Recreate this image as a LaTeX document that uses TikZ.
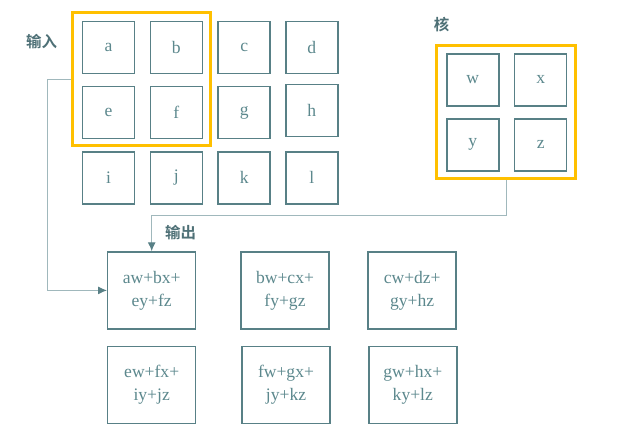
\documentclass[tikz,border=0pt]{standalone}
\usepackage{fontspec}
\setmainfont{Liberation Serif}
\newfontfamily\cjk{Noto Sans CJK SC}[BoldFont={Noto Sans CJK SC Bold}]
\usetikzlibrary{arrows.meta}
\definecolor{boxcol}{RGB}{88,128,134}
\definecolor{txtcol}{RGB}{92,136,141}
\definecolor{labcol}{RGB}{78,112,118}
\definecolor{linecol}{RGB}{160,184,188}
\definecolor{framecol}{RGB}{255,192,0}
\tikzset{
    cell/.style={draw=boxcol,line width=0.85pt,minimum width=1.04cm,minimum height=1.04cm,inner sep=0pt,text=txtcol,font=\fontsize{10}{12}\selectfont},
    outcell/.style={cell,minimum width=1.76cm,minimum height=1.54cm,align=center,font=\fontsize{10}{13}\selectfont},
    frame/.style={draw=framecol,line width=1.7pt,minimum width=2.78cm,minimum height=2.66cm,inner sep=0pt},
    lab/.style={text=labcol,font=\cjk\bfseries\fontsize{8.8}{10}\selectfont,inner sep=0pt},
    conn/.style={draw=linecol,line width=0.6pt},
    tip/.style={-{Latex[length=5pt,width=4.5pt,color=boxcol]}}
}
\begin{document}
\begin{tikzpicture}[x=0.02cm,y=-0.02cm]
            \useasboundingbox (0,0) rectangle (631,433);
            % input
            \node[lab] (inlab) at (41.7,41.7) {输入};
            \node[frame] (inframe) at (141.5,79.2) {};
            \node[cell] (a) at (108.5,47.5) {a};
            \node[cell] (b) at (176.3,47.5) {b};
            \node[cell] (c) at (244.2,47.5) {c};
            \node[cell] (d) at (311.8,47.5) {d};
            \node[cell] (e) at (108.5,112.7) {e};
            \node[cell] (f) at (176.3,112.7) {f};
            \node[cell] (g) at (244.2,112.7) {g};
            \node[cell] (h) at (311.8,110.5) {h};
            \node[cell] (i) at (108.5,177.8) {i};
            \node[cell] (j) at (176.3,177.8) {j};
            \node[cell] (k) at (244.2,177.8) {k};
            \node[cell] (l) at (311.8,177.8) {l};
            % kernel
            \node[lab] (klab) at (441.7,25) {核};
            \node[frame] (kframe) at (506.2,111.7) {};
            \node[cell] (w) at (472.8,79.8) {w};
            \node[cell] (x) at (540.7,79.8) {x};
            \node[cell] (y) at (472.8,144.8) {y};
            \node[cell] (z) at (540.7,144.8) {z};
            % output
            \node[lab] (outlab) at (180.5,233) {输出};
            \node[outcell] (o1) at (151.7,290.4) {aw+bx+\\ey+fz};
            \node[outcell] (o2) at (285,290.4) {bw+cx+\\fy+gz};
            \node[outcell] (o3) at (412.2,290.4) {cw+dz+\\gy+hz};
            \node[outcell] (o4) at (151.7,385) {ew+fx+\\iy+jz};
            \node[outcell] (o5) at (286,385) {fw+gx+\\jy+kz};
            \node[outcell] (o6) at (412.8,385) {gw+hx+\\ky+lz};
            % connectors
            \draw[conn,tip] (inframe.west) -- ++(-22.7,0) |- (o1.west);
            \draw[conn,tip] (kframe.south) -- ++(0,36) -| (o1.north);
\end{tikzpicture}
\end{document}
